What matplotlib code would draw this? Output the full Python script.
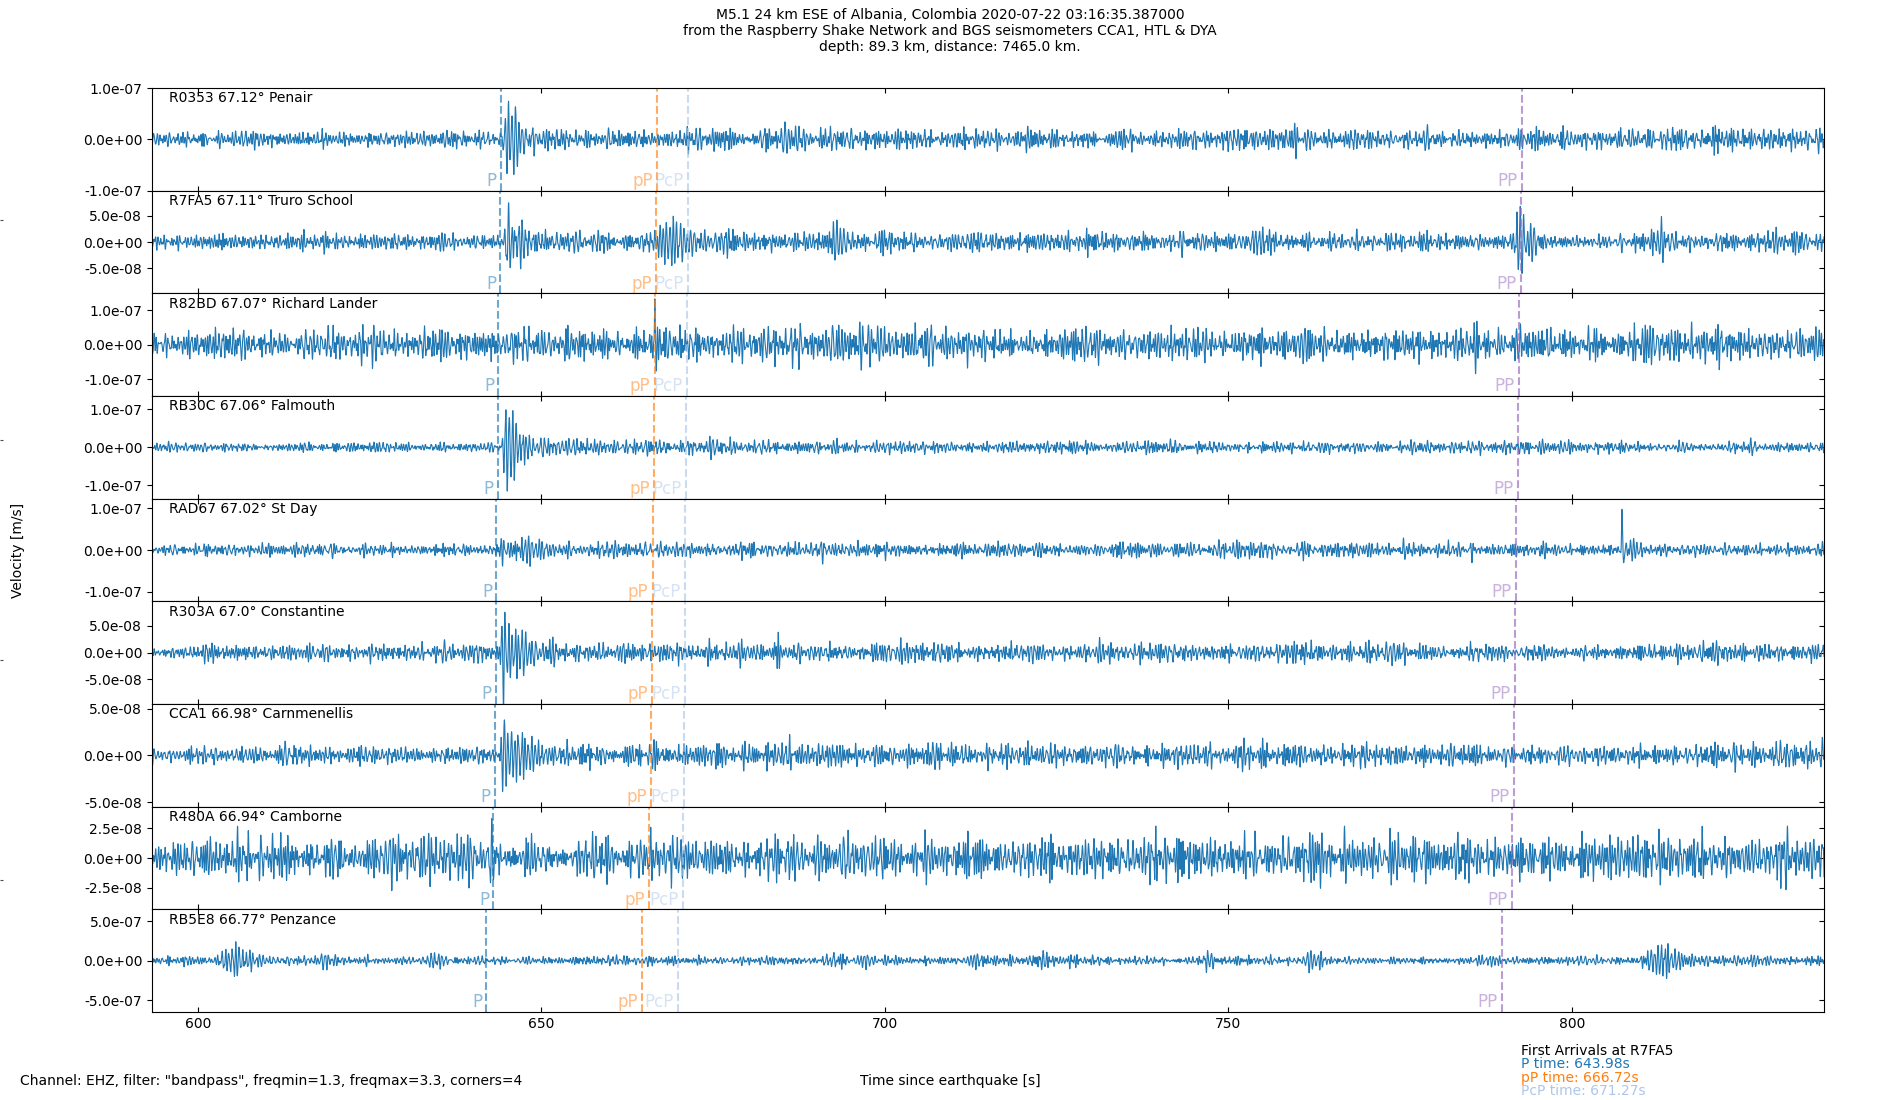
import numpy as np
import matplotlib
matplotlib.use('Agg')
import matplotlib.pyplot as plt
from matplotlib.ticker import FormatStrFormatter
from matplotlib import lines as mlines

# stations, top to bottom
stations = ['R0353', 'R7FA5', 'R82BD', 'RB30C', 'RAD67', 'R303A', 'CCA1', 'R480A', 'RB5E8']
distances = [67.12, 67.11, 67.07, 67.06, 67.02, 67.0, 66.98, 66.94, 66.77]
places = ['Penair', 'Truro School', 'Richard Lander', 'Falmouth', 'St Day',
          'Constantine', 'Carnmenellis', 'Camborne', 'Penzance']

# arrival times [s after origin]
p_times = [644.04, 643.98, 643.74, 643.68, 643.44, 643.32, 643.20, 642.96, 641.94]
pp_small_times = [666.78, 666.72, 666.48, 666.42, 666.18, 666.06, 665.94, 665.70, 664.68]
pcp_times = [671.31, 671.27, 671.11, 671.07, 670.91, 670.83, 670.75, 670.59, 669.91]
pp_times = [792.68, 792.60, 792.27, 792.19, 791.86, 791.70, 791.53, 791.21, 789.81]

phase_names = ['P', 'pP', 'PcP', 'PP']
phase_colors = ['#1f77b4', '#ff7f0e', '#aec7e8', '#9467bd']

# y range and tick step of each panel [m/s]
ylims = [1.0e-7, 9.8e-8, 1.49e-7, 1.35e-7, 1.23e-7, 9.6e-8, 5.5e-8, 4.3e-8, 6.5e-7]
ytick_steps = [1e-7, 5e-8, 1e-7, 1e-7, 1e-7, 5e-8, 5e-8, 2.5e-8, 5e-7]

# background peak amplitude at these times [m/s]
env_t = [593, 620, 640, 660, 680, 700, 720, 740, 760, 780, 800, 820, 837]
noise_levels = [
    [1.9e-8, 2.0e-8, 2.0e-8, 2.5e-8, 3.0e-8, 2.7e-8, 2.5e-8, 2.5e-8, 2.5e-8, 2.4e-8, 2.6e-8, 3.0e-8, 3.0e-8],
    [1.8e-8, 2.0e-8, 2.2e-8, 2.8e-8, 2.8e-8, 2.6e-8, 2.5e-8, 2.6e-8, 2.3e-8, 2.1e-8, 1.6e-8, 2.6e-8, 2.6e-8],
    [5.5e-8, 5.8e-8, 6.0e-8, 6.2e-8, 6.2e-8, 6.5e-8, 6.2e-8, 6.0e-8, 6.0e-8, 6.2e-8, 6.2e-8, 6.5e-8, 6.5e-8],
    [1.6e-8, 1.6e-8, 1.6e-8, 2.5e-8, 2.4e-8, 2.2e-8, 2.0e-8, 2.0e-8, 2.0e-8, 2.0e-8, 2.0e-8, 1.9e-8, 1.9e-8],
    [1.8e-8, 2.0e-8, 2.0e-8, 2.5e-8, 2.6e-8, 2.4e-8, 2.2e-8, 2.2e-8, 2.2e-8, 2.2e-8, 2.2e-8, 1.8e-8, 1.8e-8],
    [1.7e-8, 2.0e-8, 2.0e-8, 2.5e-8, 2.6e-8, 2.5e-8, 2.4e-8, 2.5e-8, 2.4e-8, 2.3e-8, 1.5e-8, 2.4e-8, 2.3e-8],
    [1.0e-8, 1.4e-8, 1.1e-8, 1.6e-8, 1.7e-8, 1.6e-8, 1.6e-8, 1.6e-8, 1.6e-8, 1.5e-8, 1.5e-8, 1.6e-8, 1.8e-8],
    [2.1e-8, 2.3e-8, 2.5e-8, 2.3e-8, 2.3e-8, 2.3e-8, 2.2e-8, 2.3e-8, 2.3e-8, 2.3e-8, 2.4e-8, 2.5e-8, 2.5e-8],
    [7.0e-8, 7.0e-8, 7.0e-8, 7.5e-8, 7.5e-8, 7.5e-8, 7.5e-8, 7.0e-8, 7.0e-8, 5.0e-8, 7.0e-8, 7.5e-8, 7.5e-8],
]

# wave packets seen on each trace: (time, extra amplitude, rise s, decay s)
bursts = [
    [(645.2, 6.0e-8, 0.6, 3.5), (685.5, 1.8e-8, 0.5, 1.5)],
    [(635.0, 2.5e-8, 0.3, 0.8), (645.2, 4.5e-8, 0.5, 3.0), (667.2, 3.0e-8, 0.5, 4.0),
     (693.0, 2.0e-8, 0.5, 1.5), (753.5, 4.0e-8, 0.4, 1.5), (792.0, 6.0e-8, 0.5, 1.8),
     (813.0, 3.0e-8, 0.8, 2.0)],
    [(666.5, 8.0e-8, 0.1, 0.3), (699.0, 3.5e-8, 0.2, 0.6), (732.0, 3.0e-8, 0.2, 0.6)],
    [(644.8, 9.0e-8, 0.4, 3.0), (650.5, 2.5e-8, 1.0, 3.0), (674.0, 2.0e-8, 0.6, 2.0)],
    [(644.6, 2.5e-8, 0.6, 6.0), (687.0, 1.2e-8, 0.5, 1.5), (807.3, 9.0e-8, 0.1, 0.4),
     (808.5, 1.5e-8, 0.5, 3.0)],
    [(644.7, 6.0e-8, 0.5, 3.5), (684.0, 2.0e-8, 0.3, 0.8)],
    [(644.6, 2.8e-8, 0.5, 4.0), (685.0, 1.2e-8, 0.5, 1.5), (836.5, 1.5e-8, 0.3, 0.5)],
    [(642.8, 1.5e-8, 0.4, 1.0)],
    [(604.5, 1.9e-7, 1.5, 3.0), (618.5, 1.0e-7, 1.0, 2.0), (634.0, 6.0e-8, 1.0, 2.0),
     (693.0, 1.0e-7, 2.0, 4.0), (713.0, 1.0e-7, 1.0, 2.0), (723.0, 1.0e-7, 1.0, 2.0),
     (747.0, 1.2e-7, 0.8, 1.5), (762.5, 1.0e-7, 1.0, 2.0), (788.0, 6.0e-8, 2.0, 3.0),
     (812.5, 2.0e-7, 2.0, 3.5), (826.0, 7.0e-8, 1.0, 2.0)],
]

# 100 Hz samples; wiggle texture shaped like the 1.3-3.3 Hz bandpass
fs = 100.0
t = np.arange(593.0, 837.0, 1 / fs)


def hash01(x):
    return (np.sin(x * 12.9898 + 78.233) * 43758.5453) % 1.0


def texture(seed_off):
    k = np.arange(400) + 1000.0 * seed_off + 7.0
    freqs = 0.9 + 3.6 * hash01(k)
    phases = 2 * np.pi * hash01(k + 0.5)
    gain = 1 / np.sqrt(1 + (freqs / 3.3) ** 8) / np.sqrt(1 + (1.3 / freqs) ** 8)
    s = np.zeros_like(t)
    for f, ph, g in zip(freqs, phases, gain):
        s += g * np.sin(2 * np.pi * f * t + ph)
    return s / s.std()


def make_trace(i):
    env = np.interp(t, env_t, noise_levels[i])
    tr = env * 0.34 * texture(i)
    extra = texture(i + 20)
    for t0, amp, rise, decay in bursts[i]:
        shape = np.where(t < t0, np.exp(-((t - t0) / rise) ** 2), np.exp(-(t - t0) / decay))
        tr += amp * shape * (0.9 * np.cos(2 * np.pi * 2.0 * (t - t0)) + 0.35 * extra)
    return tr


fig, axes = plt.subplots(9, 1, sharex=True, figsize=(19, 11), dpi=100)
fig.subplots_adjust(left=0.08, right=0.96, top=0.92, bottom=0.08, hspace=0)

# invisible full-figure axes (only leaves its small ticks at the left edge)
big = fig.add_axes([0, 0, 1, 1], frameon=False, zorder=-1)
big.set_xticks([])
big.set_yticks([0.2, 0.4, 0.6, 0.8])
big.tick_params(axis='y', direction='in', length=2, labelleft=False, color='0.3')

for i, ax in enumerate(axes):
    ax.plot(t, make_trace(i), color='#1f77b4', lw=0.8)
    arr = [p_times[i], pp_small_times[i], pcp_times[i], pp_times[i]]
    for name, col, ta in zip(phase_names, phase_colors, arr):
        ax.axvline(ta, color=col, ls='--', lw=1.5, alpha=0.65)
        ax.text(ta - 0.6, 0.005, name, color=col, alpha=0.5, fontsize=12,
                ha='right', va='bottom', transform=ax.get_xaxis_transform())
    ax.text(0.01, 0.9, f'{stations[i]} {distances[i]}° {places[i]}',
            transform=ax.transAxes, va='center')
    ax.set_ylim(-ylims[i], ylims[i])
    st = ytick_steps[i]
    ax.set_yticks([-st, 0, st])
    ax.yaxis.set_major_formatter(FormatStrFormatter('%.1e'))
    ax.tick_params(axis='x', direction='in', top=True, bottom=True)
    ax.tick_params(axis='y', direction='out', left=True, right=True)
    for tk in ax.yaxis.get_major_ticks():
        tk.tick2line.set_marker(mlines.TICKLEFT)

axes[-1].set_xlim(593.3, 836.7)
axes[-1].set_xticks([600, 650, 700, 750, 800])

fig.suptitle('M5.1 24 km ESE of Albania, Colombia 2020-07-22 03:16:35.387000\n'
             'from the Raspberry Shake Network and BGS seismometers CCA1, HTL & DYA\n'
             'depth: 89.3 km, distance: 7465.0 km.', fontsize=10, y=0.993)
fig.text(0.0095, 0.5, 'Velocity [m/s]', rotation=90, ha='center', va='center')
fig.text(0.0105, 0.0173, 'Channel: EHZ, filter: "bandpass", freqmin=1.3, freqmax=3.3, corners=4',
         va='center')
fig.text(0.5, 0.0173, 'Time since earthquake [s]', ha='center', va='center')
fig.text(0.8005, 0.0445, 'First Arrivals at ' + stations[1], va='center')
fig.text(0.8005, 0.0327, f'P time: {p_times[1]:.2f}s', color=phase_colors[0], va='center')
fig.text(0.8005, 0.0200, f'pP time: {pp_small_times[1]:.2f}s', color=phase_colors[1], va='center')
fig.text(0.8005, 0.0082, f'PcP time: {pcp_times[1]:.2f}s', color=phase_colors[2], va='center')

fig.savefig('out.png', dpi=100)
